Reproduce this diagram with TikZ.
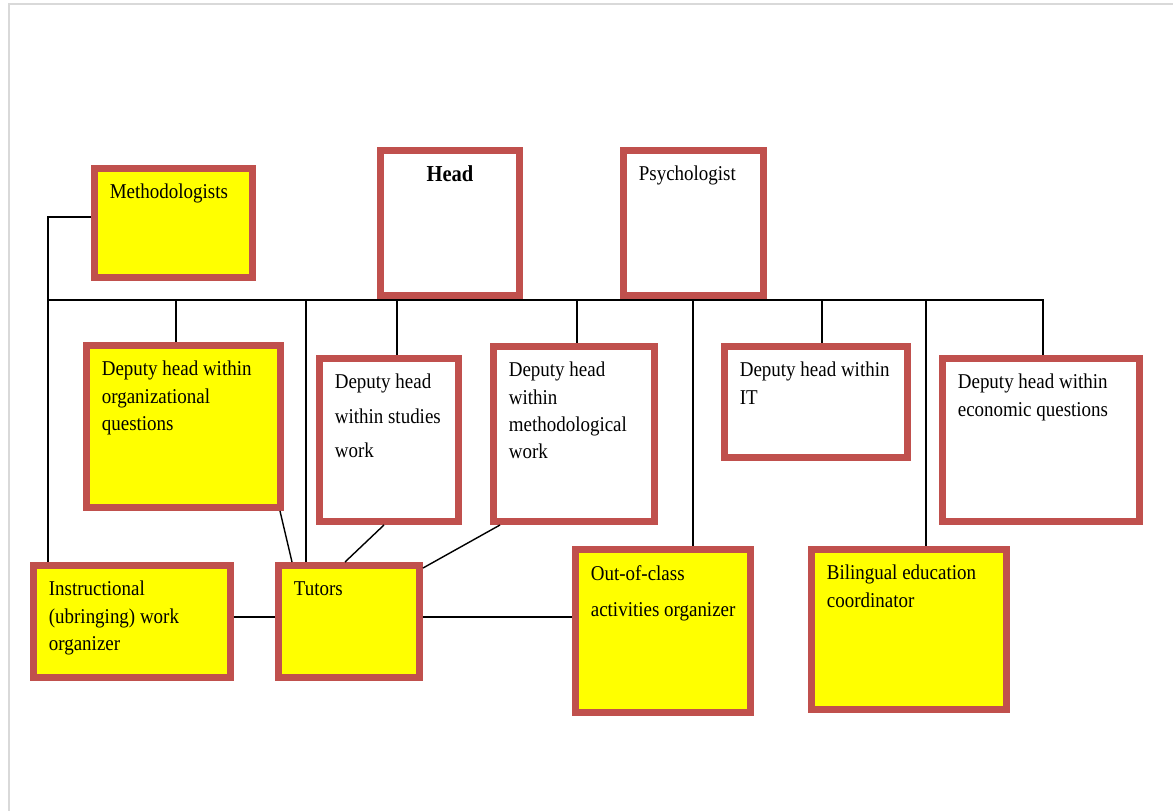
\documentclass[tikz,border=0pt]{standalone}
\usepackage{fontspec}
\setmainfont{Liberation Serif}[FakeStretch=0.9]
\usepackage{tikz}
\usetikzlibrary{calc}

\definecolor{boxred}{RGB}{192,80,77}
\definecolor{boxyellow}{RGB}{255,255,0}

\tikzset{
    orgbox/.style={draw=boxred, line width=0.14cm, inner sep=0pt, fill=white},
    ybox/.style={orgbox, fill=boxyellow},
    txt/.style={anchor=north west, inner sep=0pt, xshift=0.37cm, yshift=-0.38cm,
        align=left, font=\fontsize{12}{15.4}\selectfont},
    headtxt/.style={anchor=north, inner sep=0pt, yshift=-0.36cm,
        font=\fontsize{13}{15}\selectfont\bfseries},
    wire/.style={draw=black, line width=0.8pt}
}

\begin{document}
\begin{tikzpicture}[x=0.02cm, y=-0.02cm]
    \useasboundingbox (0,0) rectangle (1173,811);

    % page frame
    \draw[black!15, line width=1.5pt] (9,811) -- (9,4) -- (1173,4);

    % top row
    \node[ybox, minimum width=3.16cm, minimum height=2.18cm,
        label={[txt]north west:Methodologists}] (meth) at (173.5,223) {};
    \node[orgbox, minimum width=2.78cm, minimum height=2.9cm,
        label={[headtxt]north:Head}] (head) at (450,223) {};
    \node[orgbox, minimum width=2.8cm, minimum height=2.9cm,
        label={[txt]north west:Psychologist}] (psych) at (693.5,223) {};

    % deputies
    \node[ybox, minimum width=3.88cm, minimum height=3.24cm,
        label={[txt]north west:{Deputy head within\\organizational\\questions}}] (dorg) at (183.5,426.5) {};
    \node[orgbox, minimum width=2.78cm, minimum height=3.26cm,
        label={[txt]north west:{Deputy head\\[4pt]within studies\\[4pt]work}}] (dstud) at (389,440) {};
    \node[orgbox, minimum width=3.22cm, minimum height=3.5cm,
        label={[txt]north west:{Deputy head\\within\\methodological\\work}}] (dmeth) at (574,434) {};
    \node[orgbox, minimum width=3.66cm, minimum height=2.22cm,
        label={[txt]north west:{Deputy head within\\IT}}] (dit) at (816,402) {};
    \node[orgbox, minimum width=3.94cm, minimum height=3.26cm,
        label={[txt]north west:{Deputy head within\\economic questions}}] (decon) at (1041,440) {};

    % bottom row
    \node[ybox, minimum width=3.94cm, minimum height=2.24cm,
        label={[txt]north west:{Instructional\\(ubringing) work\\organizer}}] (instr) at (132,621.5) {};
    \node[ybox, minimum width=2.82cm, minimum height=2.24cm,
        label={[txt]north west:Tutors}] (tutors) at (349,621.5) {};
    \node[ybox, minimum width=3.5cm, minimum height=3.26cm,
        label={[txt]north west:{Out-of-class\\[5.5pt]activities organizer}}] (ooc) at (663,631) {};
    \node[ybox, minimum width=3.9cm, minimum height=3.2cm,
        label={[txt]north west:{Bilingual education\\coordinator}}] (biling) at (909,629.5) {};

    % bus and taps
    \coordinate (busL) at (48,300);
    \coordinate (busR) at (1043,300);
    \coordinate (mtap) at (48,217);
    \coordinate (t1) at (176,300);
    \coordinate (t2) at (306,300);
    \coordinate (t3) at (397,300);
    \coordinate (t4) at (577,300);
    \coordinate (t5) at (693,300);
    \coordinate (t6) at (822,300);
    \coordinate (t7) at (926,300);

    \draw[wire] (busL) -- (busR) -- (busR |- decon.north);
    \draw[wire] (meth.west |- mtap) -- (mtap) -- (mtap |- instr.north);
    \draw[wire] (t1) -- (t1 |- dorg.north);
    \draw[wire] (t2) -- (t2 |- tutors.north);
    \draw[wire] (t3) -- (t3 |- dstud.north);
    \draw[wire] (t4) -- (t4 |- dmeth.north);
    \draw[wire] (t5) -- (t5 |- ooc.north);
    \draw[wire] (t6) -- (t6 |- dit.north);
    \draw[wire] (t7) -- (t7 |- biling.north);

    % links to tutors
    \draw[wire] ([xshift=-0.08cm]dorg.south east) -- ([xshift=0.34cm]tutors.north west);
    \draw[wire] ([xshift=-0.1cm]dstud.south) -- ([xshift=1.4cm]tutors.north west);
    \draw[wire] ([xshift=0.2cm]dmeth.south west) -- ([yshift=-0.12cm]tutors.north east);
    \draw[wire] (instr.east |- 0,617) -- (tutors.west |- 0,617);
    \draw[wire] (tutors.east |- 0,617) -- (ooc.west |- 0,617);
\end{tikzpicture}
\end{document}
